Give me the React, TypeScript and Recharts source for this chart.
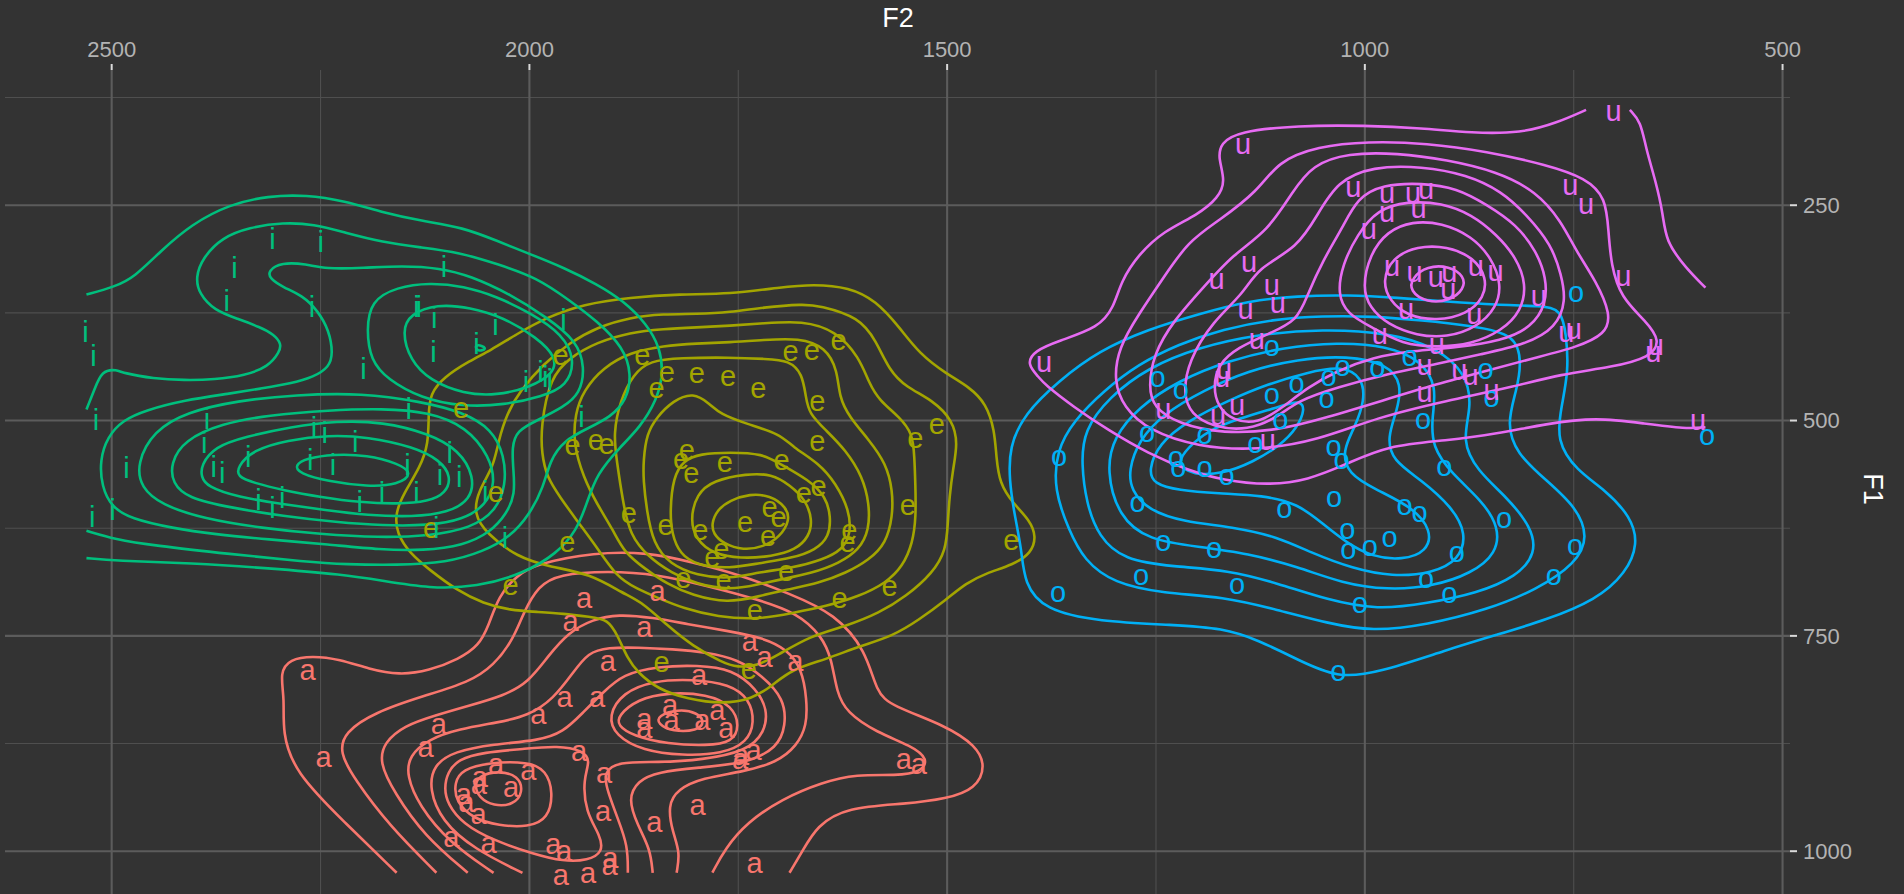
// Vowel formant chart: F2 (top, reversed) vs F1 (right, reversed), density contours + vowel labels
import { CartesianGrid, Scatter, ScatterChart, XAxis, YAxis } from "recharts";

type P = [number, number];
type Ring = { closed: boolean; pts: P[] };

const COLORS = { a: "#F8766D", e: "#A3A500", i: "#00BF7D", o: "#00B0F6", u: "#E76BF3" };

const xTicks = [500, 1000, 1500, 2000, 2500];
const yTicks = [250, 500, 750, 1000];
const xMinor = [750, 1250, 1750, 2250];
const yMinor = [125, 375, 625, 875];

// label positions [F2, F1]
const aLabels: P[] = [
  [1934.5, 708.3], [1846.5, 699.8], [1950.6, 734.5], [1862.5, 742.3], [1736.3, 757.7], [1718.5, 777], [1681.6, 781.7],
  [2265.5, 792.5], [1906, 781.7], [1797, 798.3], [1957.8, 823.4], [1919.1, 823.4], [1989.3, 842.7], [2108.3, 854.3],
  [1831.6, 833.1], [1775, 838.1], [1862.5, 848.5], [1862.5, 859], [1829.8, 850.5], [1792.9, 850.5], [1764.3, 859],
  [2124.4, 881.4], [2246.4, 893], [1940.5, 886.4], [1746.5, 891], [1731.6, 884.5], [1747.7, 894.9], [1551.8, 894.9],
  [1534, 900.7], [2039.9, 901.5], [2001.2, 908.4], [1910.7, 911.5], [2059.5, 916.2], [2060.5, 923.9], [2022, 927.7],
  [2078.6, 935.5], [2075.6, 945.1], [2060.7, 958.7], [1911.9, 956], [1798.8, 949], [1850.6, 968.3], [2093.5, 985.7],
  [2048.8, 992.7], [1971.4, 994.2], [1958.4, 1001.9], [1903, 1010.8], [1904, 1018.5], [1962.5, 1030.1], [1929.8, 1028.2],
  [1730.4, 1016.6],
];
const eLabels: P[] = [
  [1962.6, 426.4], [2081.8, 487.6], [1864.9, 425.7], [1835.5, 445.8], [1847.8, 465.1], [1799.7, 446.6], [1762.3, 450.4],
  [1726, 464.4], [1687.5, 421.8], [1661.9, 420.6], [1629.8, 409], [1655.5, 479.8], [1655.5, 526.3], [1538, 522.4],
  [1512.3, 505.8], [1948.2, 530.9], [1920.5, 525.1], [1907.6, 529], [1811.5, 536.7], [1818.4, 547.2], [1806.1, 562.7],
  [1766.1, 550.3], [1698.2, 548.3], [1671.5, 586.3], [1653.9, 578.1], [1712.6, 602.5], [1701.9, 614.1], [1742, 619.9],
  [1714.2, 636.2], [1880.9, 609.1], [1837.1, 623.8], [1795.4, 629.6], [1770.3, 650.9], [1781, 660.6], [1547.1, 599.8],
  [1617, 629.6], [1619.2, 643.2], [1423.1, 641.2], [1954.6, 643.2], [2040.1, 585.1], [2117.6, 626.9], [2022.5, 693.5],
  [1815.8, 685], [1767.7, 687.7], [1692.9, 677.2], [1569, 694.2], [1628.8, 708.9], [1730.3, 722.5], [1841.7, 782.8],
  [1737.5, 790.5],
];
const iLabels: P[] = [
  [2307.4, 289.3], [2249.7, 293.2], [2353.1, 322.9], [2362.3, 361.5], [2260.2, 368.4], [2102.4, 321.3], [2135.3, 368.4],
  [2132.6, 368.4], [2113.8, 380.8], [2040.6, 389.6], [2063.5, 410.8], [2114.7, 420.5], [1959.2, 383.8], [2531.5, 397.3],
  [2521.9, 425.5], [2518.7, 498.8], [2198.5, 439.8], [2004, 455.2], [1986.6, 443.6], [1981, 449], [1975.7, 453.3],
  [2144.5, 486.1], [2386, 497.7], [2258, 509.2], [2245.1, 515], [2208.5, 524.7], [2389.2, 526.6], [2336.6, 542],
  [2482.2, 555.5], [2377.8, 554.4], [2367.8, 561.3], [2262.5, 545.9], [2235.1, 551.7], [2145.9, 551.7], [2095.5, 538.2],
  [2107, 563.2], [2084.1, 565.2], [2135.3, 584.5], [2324.3, 592.2], [2307.4, 601.8], [2296, 590.2], [2203, 594.1],
  [2176.5, 584.5], [2523.3, 611.5], [2499, 603.7], [2029.2, 636.5], [1937.7, 495.7], [2111.5, 625], [2053, 583],
];
const oLabels: P[] = [
  [1111.3, 415.9], [1248.2, 451.7], [1220.3, 466], [1081.6, 458.3], [1043.5, 450.6], [1026.8, 439], [985.1, 440.2],
  [946.5, 427.4], [855.4, 442.1], [848.3, 474.9], [1111.3, 471.8], [1045.9, 475.7], [1101.2, 500], [930.4, 500],
  [1260.7, 515.4], [1191.7, 518.5], [1366.1, 543.2], [1226.2, 544.3], [1223.2, 555.9], [1191.7, 555.9], [1165.5, 565.5],
  [1131, 528.9], [1037.5, 531.6], [1028, 547], [904.8, 554.8], [1036.9, 590.6], [1096.5, 604.1], [1272, 597.2],
  [952.4, 600.3], [934.6, 608.8], [833.4, 614.9], [1020.9, 628.4], [970.3, 637.7], [1019.7, 651.6], [994.1, 648.5],
  [889.9, 655.1], [748.3, 647.3], [1241.1, 641.6], [1180.4, 650.4], [1267.9, 682.1], [1153, 692.1], [926.8, 685.2],
  [898.8, 702.5], [773.8, 682.1], [1367.3, 701.7], [1006, 714.1], [1031.6, 793.2], [590.5, 519.3], [747.1, 353.4],
];
const uLabels: P[] = [
  [702.4, 143.2], [1145.9, 181.7], [1013.7, 230.7], [973.3, 237.7], [942.3, 237.7], [926.8, 233.8], [973.3, 260.1],
  [935.7, 255], [995.3, 280.1], [754.2, 229.2], [735.2, 251.2], [1138.7, 318.7], [1177.4, 338], [1111.3, 344.9],
  [1104.2, 365.8], [1142.9, 372.7], [967.3, 322.5], [940.5, 330.3], [914.9, 336.1], [898.8, 330.3], [900, 349.6],
  [867.3, 322.5], [843.5, 328.3], [791.7, 357.3], [690.5, 334.1], [950.6, 372.7], [869.1, 378.5], [982.2, 401.6],
  [913.7, 413.2], [758.9, 399.7], [750, 395.9], [651.8, 415.1], [654.8, 422.9], [1129.2, 407.4], [1168.5, 442.1],
  [1170.9, 451.8], [928.6, 438.3], [887, 444.1], [873.3, 449.9], [928.6, 469.1], [848.2, 467.2], [1383.9, 434.4],
  [1241.1, 488.4], [1175.6, 496.2], [1153, 484.6], [1116.1, 525.1], [601.2, 501.9],
];

// contour lines [F2, F1]
const aContours: Ring[] = [
  { closed: false, pts: [[2158.9, 1025], [2221.4, 966.4], [2281, 908.4], [2295.8, 862], [2292.9, 823.4], [2298.8, 792.5], [2286.9, 777], [2260, 773.2], [2227.4, 777], [2191.7, 788.6], [2156, 795.6], [2120.2, 790.6], [2084.5, 777], [2060.7, 761.6], [2048.8, 738.4], [2037, 703.6], [2015, 680], [1992, 666.4], [1922.5, 652.9], [1858.4, 652.9], [1805, 664.5], [1751.6, 678], [1687.5, 701.2], [1634, 724.5], [1597, 767], [1584.6, 815.7], [1566.7, 831.1], [1501.2, 854.3], [1465.5, 877.5], [1453.6, 900.7], [1465.5, 927.7], [1501.2, 939.3], [1548.9, 945.1], [1620.3, 949], [1656, 970.3], [1673.8, 1001.2], [1688.7, 1025]] },
  { closed: false, pts: [[2111.3, 1025], [2167.9, 970.3], [2209.5, 916.2], [2227.4, 885.2], [2221.4, 862], [2185.7, 838.9], [2126.2, 819.6], [2072.6, 804.1], [2042.9, 784.8], [2019.1, 753.9], [2007.2, 723], [1989.3, 692], [1965.5, 678.5], [1906, 674.6], [1846.5, 678.5], [1786.9, 692], [1727.4, 707.5], [1679.8, 723], [1650, 750], [1638.1, 777], [1632.2, 815.7], [1620.3, 838.9], [1584.6, 862], [1542.9, 877.5], [1522.1, 893], [1531, 908.4], [1560.8, 912.3], [1608.4, 910.4], [1650, 920], [1697.7, 939.3], [1739.3, 966.4], [1766.1, 997.3], [1781, 1025]] },
  { closed: false, pts: [[2073.8, 1025.1], [2126.2, 981.8], [2161.9, 931.6], [2179.8, 896.8], [2173.8, 873.6], [2150, 854.3], [2114.3, 842.7], [2072.6, 831.1], [2030.9, 819.5], [2001.2, 804.1], [1977.4, 773.2], [1953.6, 746.1], [1923.8, 730.7], [1894.1, 724.9], [1852.4, 728.7], [1810.7, 736.4], [1763.1, 744.2], [1721.4, 751.9], [1691.7, 765.4], [1673.8, 788.6], [1667.9, 823.4], [1667.9, 854.3], [1679.8, 877.5], [1703.6, 897], [1745.3, 908], [1792.9, 915], [1822.6, 928], [1834.5, 947.1], [1828.6, 978], [1819.6, 1001.1], [1823.8, 1025.1]] },
  { closed: false, pts: [[2042.9, 1025.1], [2096.4, 989.5], [2132.1, 947.1], [2147, 912.3], [2144, 889.1], [2120.2, 869.8], [2084.5, 858.2], [2036.9, 850.4], [2001.2, 842.7], [1971.4, 823.4], [1947.6, 792.5], [1929.8, 769.3], [1906, 763.5], [1870.3, 763.5], [1828.6, 765.4], [1786.9, 769.3], [1751.2, 777], [1721.4, 796.3], [1695, 823], [1693, 854], [1703, 880], [1740, 898], [1798.8, 903], [1846.4, 908], [1870.3, 918], [1882.2, 939.3], [1870.3, 970.3], [1855.4, 997.3], [1852.4, 1025.1]] },
  { closed: false, pts: [[2008.3, 1025.1], [2066.7, 997.3], [2105, 965], [2120, 928], [2115, 900], [2090, 884], [2042.9, 875.6], [1989.3, 871.7], [1959.5, 862], [1935.7, 838.8], [1911.9, 815.7], [1888.1, 794.4], [1846.4, 785.5], [1798.8, 784], [1757.2, 788.6], [1728, 811.8], [1715, 835], [1718, 862], [1740, 884], [1792.9, 894], [1846.4, 897], [1894.1, 896], [1911.9, 908.4], [1906, 931.6], [1894.1, 962.5], [1882.2, 993.4], [1882.2, 1025.1]] },
  { closed: true, pts: [[2098, 908.4], [2085, 893], [2054.8, 885.2], [2007.2, 881.3], [1965.5, 877.5], [1935.7, 883.3], [1926.8, 894.9], [1935.7, 916.1], [1932.7, 954.8], [1914.9, 981.8], [1911.9, 1001.1], [1929.8, 1010.8], [1959.5, 1012], [1995.2, 1003.1], [2042.9, 987.6], [2080, 968], [2098, 945], [2102, 927]] },
  { closed: true, pts: [[2080, 905], [2048.8, 897], [2001.2, 896], [1980, 906], [1971.4, 931.6], [1977.4, 962.5], [2001.2, 972.2], [2036.9, 970.3], [2066.7, 962.5], [2088, 943.2], [2090, 920]] },
  { closed: true, pts: [[2060.7, 912.3], [2036.9, 906.5], [2013.1, 912.3], [2007.2, 931.6], [2019.1, 946.3], [2042.9, 947.8], [2060.7, 937.4], [2065.5, 923.9]] },
  { closed: true, pts: [[1906, 842.7], [1888.1, 815.7], [1852.4, 802.1], [1804.8, 800.2], [1760.2, 806], [1736.3, 823.4], [1730.4, 850.4], [1739.3, 873.6], [1769.1, 887.1], [1816.7, 889.1], [1864.3, 883.3], [1897, 865.9]] },
  { closed: true, pts: [[1894.1, 842.7], [1870.3, 823.4], [1834.5, 815.7], [1786.9, 817.6], [1757.2, 831.1], [1748.2, 854.3], [1757.2, 873.6], [1786.9, 877.5], [1834.5, 875.6], [1876.2, 865.9], [1894.1, 854.3]] },
  { closed: true, pts: [[1846.4, 842.7], [1822.6, 835], [1798.8, 838.8], [1789.9, 850.4], [1798.8, 860.1], [1828.6, 861.2], [1846.4, 852.4]] },
];

const eContours: Ring[] = [
  { closed: true, pts: [[2160.7, 608.2], [2150.7, 585], [2130.7, 554.1], [2120.8, 527], [2120.8, 492.3], [2118.8, 469.1], [2102.8, 449.8], [2071, 430.4], [2047, 418.9], [2015.1, 399.5], [1979.3, 380.2], [1935.4, 364.8], [1879.6, 357], [1819.8, 353.2], [1760, 353.2], [1700.2, 345.4], [1660.3, 341.6], [1617.2, 345.3], [1585.2, 360.8], [1557.2, 391.6], [1533.2, 422.5], [1501.2, 445.6], [1473.2, 461.1], [1453.2, 480.4], [1443.2, 511.2], [1441.2, 542.1], [1437.2, 573], [1421.2, 596.1], [1401.2, 615.4], [1393.2, 634.7], [1399.2, 654], [1421.2, 667.5], [1453.2, 677.1], [1477.2, 688.7], [1501.2, 708], [1533.2, 731.1], [1565.2, 750.4], [1605.2, 762], [1645.2, 777.4], [1685.7, 788.6], [1709.5, 807.9], [1733.4, 823.4], [1769.1, 829.2], [1810.7, 823.4], [1846.4, 811.8], [1870.3, 792.5], [1882.2, 777], [1894.1, 750], [1906, 730.7], [1927.4, 728], [1959.3, 724.1], [1991.2, 722.2], [2023.1, 720.2], [2055, 712.5], [2086.9, 697.1], [2118.8, 673.9], [2142.7, 654.6], [2158.7, 631.4]] },
  { closed: true, pts: [[2067, 608.2], [2061, 581.1], [2043, 554.1], [2037, 523.2], [2027.1, 492.3], [2011.1, 465.2], [1983.2, 434.3], [1951.3, 409.2], [1919.4, 391.8], [1879.6, 380.2], [1839.7, 376.3], [1799.8, 376.3], [1760, 374.4], [1720.1, 368.6], [1672.2, 364.8], [1653.2, 366.6], [1605.2, 380.1], [1585.2, 407.1], [1569.2, 441.8], [1549.2, 461.1], [1517.2, 476.5], [1493.2, 499.7], [1487.2, 526.7], [1493.2, 557.5], [1497.2, 588.4], [1499.2, 619.3], [1501.2, 650.1], [1517.2, 677.1], [1549.2, 704.2], [1581.2, 723.4], [1621.2, 738.9], [1665.2, 750.4], [1703.6, 773.2], [1727.4, 784.7], [1751.2, 786.7], [1769.1, 780.9], [1804.8, 761.6], [1834.5, 738.4], [1864.3, 711.3], [1887.5, 700.9], [1927.4, 677.7], [1975.3, 670], [2015.1, 658.4], [2051, 631.4]] },
  { closed: true, pts: [[1986.4, 507.7], [1975.3, 449.8], [1951.3, 426.6], [1919.4, 409.2], [1879.6, 397.6], [1839.7, 393.7], [1799.8, 391.8], [1760, 389.9], [1720.1, 387.2], [1673.2, 383.9], [1633.2, 395.5], [1605.2, 426.4], [1593.2, 457.2], [1581.2, 476.5], [1557.2, 495.8], [1541.2, 515.1], [1539.2, 542.1], [1538, 573], [1537.2, 611.5], [1541.2, 642.4], [1553.2, 669.4], [1573.2, 688.6], [1605.2, 704.1], [1645.2, 715.7], [1685.2, 723.4], [1725.2, 731.1], [1775, 728], [1816, 718], [1846, 706], [1872, 695], [1895.6, 681.6], [1919.4, 646.8], [1943.4, 615.9], [1963.3, 588.9], [1979.2, 565.7], [1985.2, 538.6]] },
  { closed: true, pts: [[1947.4, 527], [1945.4, 492.3], [1935.4, 465.2], [1911.5, 438.2], [1879.6, 420.8], [1839.7, 413.1], [1799.8, 410.4], [1760, 409.2], [1720.1, 406.5], [1677.2, 404], [1645.2, 414.8], [1631.2, 441.8], [1629.2, 472.6], [1617.2, 495.8], [1593.2, 522.8], [1573.2, 549.8], [1565.2, 580.7], [1565.2, 611.5], [1573.2, 642.4], [1593.2, 661.7], [1621.2, 677.1], [1653.2, 688.7], [1693.2, 696.4], [1725.2, 704.1], [1763, 712], [1805, 703], [1835, 690], [1862, 672], [1887.5, 652], [1899.5, 627.5], [1919.4, 596.6], [1935.4, 565.7]] },
  { closed: true, pts: [[1895.5, 546.4], [1899.5, 515.4], [1891.5, 476.8], [1875.6, 445.9], [1855.6, 430.4], [1819.8, 427.3], [1760, 426.6], [1716.1, 428.5], [1689.2, 430.2], [1673.2, 445.7], [1669.2, 472.6], [1665.2, 491.9], [1645.2, 511.2], [1621.2, 534.4], [1601.2, 565.2], [1593.2, 596.1], [1593.2, 627], [1605.2, 650.1], [1629.2, 665.6], [1661.2, 677.1], [1701.2, 684.8], [1725.2, 690], [1760, 697], [1800, 690], [1830, 677], [1858, 658], [1879.6, 633], [1888, 595]] },
  { closed: true, pts: [[1863.6, 546.4], [1859.6, 515.4], [1847.7, 496.1], [1827.8, 476.8], [1803.8, 467.1], [1783.9, 480.7], [1772, 492.3], [1740, 503.9], [1700.2, 515.4], [1685.2, 530.5], [1653.2, 549.8], [1633.2, 573], [1617.2, 603.8], [1615.2, 630.8], [1625.2, 650.1], [1649.2, 661.7], [1685.2, 671.2], [1725.2, 676], [1760, 684], [1799.8, 680], [1831.7, 667], [1851.7, 643], [1859.6, 604.3], [1863.6, 569.5]] },
  { closed: true, pts: [[1829.7, 631.4], [1831.7, 604.3], [1827.8, 565.7], [1815.8, 546.4], [1795.8, 538.6], [1760, 536.7], [1720.1, 538.6], [1701.2, 549.8], [1665.2, 569.1], [1645.2, 588.4], [1639.2, 611.5], [1641.2, 634.7], [1657.2, 650.1], [1685.2, 659.8], [1725.2, 665.5], [1760, 672], [1799.8, 668], [1819.8, 655]] },
  { closed: true, pts: [[1807.8, 615.9], [1799.8, 585], [1779.9, 569.5], [1740, 561.8], [1710, 562], [1688, 575], [1669.2, 592.3], [1661.2, 615.4], [1665.2, 634.7], [1681.2, 650.1], [1709.2, 657.8], [1748, 660.3], [1779.9, 654.6], [1799.8, 639.1]] },
  { closed: true, pts: [[1781.9, 619.8], [1775.9, 604.3], [1760, 592.7], [1736.1, 585], [1712.1, 586.9], [1692.2, 600.5], [1688.2, 615.9], [1700.2, 635.2], [1720.1, 646.8], [1744, 650.7], [1767.9, 643], [1779.9, 631.4]] },
];

const iContours: Ring[] = [
  { closed: false, pts: [[2530.2, 353.7], [2495.9, 344.5], [2473, 333.7], [2441, 302.8], [2404.3, 272], [2358.6, 248.8], [2312.9, 239.2], [2267.1, 238], [2221.4, 245], [2175.6, 258.5], [2129.9, 268.1], [2078.9, 275.9], [2039, 291.3], [1999.2, 306.8], [1959.3, 322.2], [1919.4, 341.6], [1887.5, 360.9], [1859.6, 387.9], [1843.7, 415], [1839.7, 445.9], [1847.7, 476.8], [1867.6, 507.7], [1891.5, 530.9], [1919.4, 561.8], [1931.4, 596.6], [1943.4, 627.5], [1967.3, 654.6], [2007.1, 677.7], [2063, 693.2], [2118.8, 695.1], [2178.6, 685.5], [2221.4, 679], [2312.9, 671.3], [2404.3, 665.5], [2495.9, 662.8], [2530.2, 659.7]] },
  { closed: false, pts: [[2530.2, 487.2], [2521, 464.9], [2511.9, 441.7], [2493.6, 440.9], [2486.7, 444.8], [2450.1, 451.3], [2413.5, 453.3], [2376.9, 452.5], [2340.3, 447.5], [2312.9, 437.9], [2299.1, 420.5], [2296.8, 410.8], [2306, 400], [2322, 391.6], [2349.4, 381.9], [2376.9, 372.3], [2395.2, 353], [2399.8, 333.7], [2390.6, 310.5], [2367.8, 287.4], [2335.7, 275.8], [2294.6, 270], [2258, 272], [2221.4, 281.6], [2175.6, 293.2], [2129.9, 299], [2084.1, 304.7], [2038.4, 318.3], [1991.2, 333.8], [1951.3, 360.9], [1919.4, 384.1], [1887.5, 415], [1877.6, 445.9], [1883.6, 476.8], [1903.5, 496.1], [1927.4, 507.7], [1959.3, 523.2], [1975.3, 546.4], [1983.2, 577.3], [1999.2, 608.2], [2023.1, 635.2], [2055, 652], [2098.9, 665], [2158.7, 668], [2220, 667], [2267.1, 664], [2358.6, 655], [2450.1, 645], [2495.9, 638], [2530.2, 628]] },
  { closed: true, pts: [[2511.9, 576.7], [2514.2, 545.9], [2505, 518.9], [2486.7, 499.6], [2459.3, 488], [2413.5, 476.4], [2358.6, 468.7], [2322, 462.9], [2285.4, 457.1], [2258, 449.4], [2239.7, 437.9], [2235.1, 422.4], [2239.7, 395.4], [2253.4, 372.3], [2271.7, 354.9], [2294.6, 345.3], [2310.6, 335.6], [2312.9, 326], [2296.8, 316.3], [2267.1, 318.3], [2244.2, 324], [2198.5, 322.9], [2152.7, 320.2], [2107, 322.9], [2071, 331.9], [2023.1, 353.2], [1979.3, 380.2], [1943.4, 407.3], [1933.4, 438.2], [1939.4, 469.1], [1959.3, 484.5], [1991.2, 500], [2015.1, 511.6], [2021.1, 530.9], [2019.1, 558], [2017.1, 585], [2027.1, 608.2], [2047, 630], [2078.9, 645], [2126.8, 651], [2178.6, 650], [2239.7, 644], [2312.9, 638], [2376.9, 632], [2427.2, 625], [2477.5, 614], [2500.4, 600]] },
  { closed: true, pts: [[2195, 395], [2190, 361], [2159, 345], [2119, 340], [2079, 344], [2039, 356], [1999, 375], [1960, 400], [1945, 430], [1955, 460], [1985, 472], [2030, 482], [2080, 484], [2130, 474], [2170, 452], [2190, 430]] },
  { closed: true, pts: [[2152.7, 395.7], [2142.7, 376.3], [2110.8, 364.8], [2071, 368.6], [2031.1, 380.2], [1991.2, 403.4], [1967.3, 426.6], [1971.3, 445.9], [1999.2, 461.4], [2039, 471], [2078.9, 469.1], [2118.8, 453.6], [2142.7, 430.4]] },
  { closed: true, pts: [[2066, 410], [2048, 416], [2063, 421]] },
  { closed: true, pts: [[2470, 550], [2450, 512], [2410, 490], [2350, 477], [2280, 470], [2200, 468], [2130, 478], [2080, 490], [2045, 510], [2030, 540], [2028, 575], [2040, 605], [2070, 625], [2120, 634], [2180, 636], [2250, 632], [2320, 625], [2390, 614], [2440, 598], [2465, 578]] },
  { closed: true, pts: [[2429.5, 549.7], [2413.5, 522.7], [2367.8, 503.4], [2312.9, 493.8], [2239.7, 488], [2175.6, 486], [2120.7, 490], [2075, 507.3], [2047.5, 542], [2040.6, 572.9], [2052.1, 598], [2079.6, 615.3], [2120.7, 622], [2175.6, 622], [2230.5, 618], [2294.6, 611], [2358.6, 601], [2408.9, 590], [2427.2, 572.9]] },
  { closed: true, pts: [[2392.9, 551.7], [2376.9, 530.4], [2340.3, 518.9], [2285.4, 507.3], [2230.5, 500.4], [2175.6, 501.5], [2120.7, 515], [2084.1, 534.3], [2065.8, 565.2], [2070.4, 592.2], [2097.8, 607], [2139, 612], [2193.9, 610], [2244.2, 604], [2294.6, 597], [2349.4, 589], [2386, 576.7], [2392.9, 565.2]] },
  { closed: true, pts: [[2349.4, 553.6], [2331.1, 534.3], [2290, 522.7], [2239.7, 516.9], [2193.9, 518.9], [2139, 530.4], [2107, 545.9], [2093.3, 565.2], [2100.1, 584.4], [2120.7, 594], [2157.3, 597], [2203, 595], [2248.8, 589], [2294.6, 581], [2331.1, 572], [2349.4, 565.2]] },
  { closed: true, pts: [[2280.8, 551.7], [2267.1, 544], [2235.1, 538.9], [2193.9, 540.1], [2157.3, 549.7], [2139, 561.3], [2157.3, 574.8], [2193.9, 576.7], [2239.7, 570.9], [2276.2, 561.3]] },
];

const oContours: Ring[] = [
  { closed: true, pts: [[764.9, 370.8], [788.7, 366.9], [842.3, 365.8], [901.8, 361.9], [961.3, 357.3], [1020.9, 354.2], [1080.4, 355.3], [1139.9, 361.1], [1199.4, 376.6], [1258.9, 393.9], [1318.5, 419], [1366.1, 453.7], [1407.7, 492.3], [1425.6, 530.9], [1425.6, 569.4], [1419.6, 608], [1410.7, 650.4], [1407.7, 689], [1383.9, 719.9], [1318.5, 733.4], [1229.2, 737.2], [1169.7, 741.1], [1128, 754.6], [1080.4, 777.7], [1032.8, 799], [985.1, 793.2], [901.8, 766.2], [842.3, 748.8], [782.8, 731.5], [723.3, 708.3], [687.5, 677.4], [672.6, 642.7], [681.6, 611.9], [711.4, 581], [747.1, 557.8], [770.9, 523.1], [764.9, 484.5], [756, 442.1], [759, 399.7]] },
  { closed: true, pts: [[818.5, 399.7], [872.1, 390.1], [931.6, 383.5], [991.1, 378.9], [1050.6, 378.5], [1110.1, 382.4], [1169.7, 393.9], [1223.2, 411.3], [1270.8, 434.4], [1312.5, 465.3], [1348.2, 500], [1369.1, 534.7], [1372, 581], [1354.2, 627.3], [1336.3, 662], [1300.6, 689], [1241.1, 700.6], [1169.7, 704.4], [1104.2, 719.9], [1044.7, 735.3], [991.1, 745], [925.6, 737.2], [854.2, 719.9], [794.7, 696.6], [747.1, 665.9], [732.2, 635], [747.1, 600.3], [782.8, 569.4], [818.5, 538.5], [830.4, 503.8], [818.5, 465.2], [812.5, 434.4]] },
  { closed: true, pts: [[1339.3, 550.1], [1336.3, 511.5], [1306.6, 473], [1258.9, 438.2], [1199.4, 415.1], [1128, 399.7], [1050.6, 393.9], [973.2, 397.7], [913.7, 415.1], [878, 446], [872.1, 484.5], [884, 523.1], [866.1, 557.8], [830.4, 588.7], [800.6, 623.4], [794.7, 654.3], [818.5, 681.3], [866.1, 700.6], [925.6, 712.2], [985.1, 719.9], [1044.7, 708.3], [1104.2, 689], [1163.7, 673.6], [1229.2, 669.7], [1288.7, 662], [1318.5, 635], [1333.3, 596.4]] },
  { closed: true, pts: [[1309.5, 557.8], [1300.6, 519.3], [1270.8, 484.5], [1223.2, 453.7], [1163.7, 430.5], [1098.2, 415.1], [1032.8, 409.3], [973.2, 413.2], [931.6, 430.5], [913.7, 461.4], [919.7, 496.1], [919.7, 530.8], [895.9, 561.7], [860.2, 592.6], [839.3, 623.4], [842.3, 654.3], [872.1, 677.4], [919.7, 692.9], [973.2, 696.7], [1026.8, 689], [1080.4, 669.7], [1139.9, 654.3], [1199.4, 646.6], [1258.9, 638.9], [1294.7, 611.8]] },
  { closed: true, pts: [[1282.7, 557.8], [1270.8, 523.1], [1241.1, 492.3], [1193.5, 465.2], [1139.9, 442.1], [1080.4, 428.6], [1020.9, 424.7], [973.2, 434.4], [955.4, 457.5], [961.3, 488.4], [973.2, 519.3], [967.3, 546.3], [931.6, 569.4], [895.9, 600.3], [878, 631.1], [887, 662], [919.7, 677.4], [967.3, 681.3], [1014.9, 671.7], [1062.5, 654.3], [1104.2, 635], [1157.8, 623.4], [1217.3, 617.6], [1258.9, 604.1], [1279.8, 581]] },
  { closed: true, pts: [[1258.9, 557.8], [1247, 527], [1211.3, 500], [1163.7, 476.8], [1116.1, 457.5], [1068.5, 444], [1026.8, 436.3], [1003, 449.8], [1000, 476.8], [1012, 507.7], [1026.8, 534.7], [1020.9, 561.7], [985.1, 581], [943.5, 600.3], [919.7, 627.3], [925.6, 652.4], [955.4, 662], [991.1, 658.2], [1020.9, 642.7], [1050.6, 619.6], [1080.4, 596.4], [1122, 586.8], [1175.6, 584.8], [1223.2, 581], [1253, 573.3]] },
  { closed: true, pts: [[1226.2, 550.1], [1211.3, 530.8], [1187.5, 511.5], [1151.8, 498], [1104.2, 484.5], [1077.4, 476], [1071.5, 486.5], [1080.4, 507.7], [1101.2, 528.9], [1133.9, 548.2], [1169.7, 561.7], [1205.4, 563.6]] },
];

const uContours: Ring[] = [
  { closed: false, pts: [[682.8, 139.3], [669.7, 152.8], [663.7, 183.7], [651.8, 222.2], [642.9, 260.8], [639.9, 291.7], [616.1, 322.5], [592.3, 345.7]] },
  { closed: false, pts: [[735.2, 139.3], [770.9, 154.7], [812.5, 166.3], [872, 166.3], [931.6, 160.5], [1000, 157.4], [1080.4, 157.4], [1151.8, 164.4], [1172.6, 177.9], [1175.6, 195.2], [1166.7, 222.2], [1175.6, 241.5], [1199.4, 260.8], [1241.1, 280.1], [1270.8, 307.1], [1291.7, 338], [1300.6, 368.9], [1318.5, 392], [1366.1, 407.4], [1395.8, 419], [1404.8, 434.4], [1389.9, 449.9], [1383.9, 457.5], [1348.2, 484.5], [1306.6, 511.5], [1259, 538.5], [1211.3, 557.8], [1169.7, 569.4], [1116.1, 575.2], [1068.5, 569.4], [1020.9, 550.1], [973.2, 528.9], [901.8, 523.1], [842.3, 515.4], [782.8, 503.8], [723.3, 496.1], [663.7, 503.8], [616.1, 509.6], [592.3, 507.7]] },
  { closed: true, pts: [[1300.6, 453.7], [1294.7, 415.1], [1270.8, 376.6], [1241.1, 334.1], [1211.3, 291.7], [1175.6, 268.5], [1128, 233.8], [1104.2, 199.1], [1056.6, 181.7], [997.1, 175.9], [925.6, 177.9], [854.2, 187.5], [782.8, 203], [735.2, 218.4], [711.4, 241.5], [708.4, 280.1], [705.4, 318.7], [693.5, 357.3], [663.7, 384.3], [645.9, 407.4], [657.8, 426.7], [705.4, 438.3], [764.9, 446], [824.4, 461.4], [901.8, 476.9], [985.1, 496.2], [1056.6, 523.2], [1128, 534.7], [1199.4, 530.9], [1258.9, 511.6], [1288.7, 484.6]] },
  { closed: true, pts: [[1258.9, 461.4], [1253, 422.9], [1229.2, 384.3], [1193.5, 345.7], [1157.8, 307.1], [1116.1, 280.1], [1086.3, 233.8], [1062.5, 203], [1020.9, 189.4], [961.3, 189.4], [901.8, 197.2], [842.3, 210.7], [794.7, 233.8], [764.9, 268.5], [747.1, 303.3], [723.3, 338], [705.4, 376.6], [711.4, 399.7], [747.1, 415.1], [794.7, 426.7], [854.2, 442.1], [913.7, 457.6], [979.2, 476.9], [1044.7, 496.2], [1104.2, 511.6], [1169.7, 515.4], [1223.2, 503.9], [1253, 484.6]] },
  { closed: true, pts: [[1217.3, 469.2], [1211.3, 430.6], [1181.6, 384.3], [1145.9, 353.4], [1128, 322.5], [1080.4, 299.4], [1056.6, 260.8], [1032.8, 222.2], [991.1, 204.9], [931.6, 204.9], [878, 214.5], [836.3, 233.8], [806.6, 260.8], [776.8, 295.5], [764.9, 330.3], [759, 361.1], [770.9, 392], [806.6, 411.3], [860.2, 422.9], [913.7, 434.4], [973.2, 446], [1032.8, 461.4], [1080.4, 476.9], [1104.2, 496.2], [1139.9, 511.6], [1181.6, 507.7], [1208.3, 492.3]] },
  { closed: true, pts: [[1181.6, 461.4], [1175.6, 434.4], [1151.8, 415.1], [1116.1, 399.7], [1080.4, 384.3], [1068.5, 353.4], [1050.6, 314.8], [1026.8, 276.3], [1009, 241.5], [979.2, 226.1], [931.6, 224.2], [889.9, 230], [854.2, 249.2], [818.5, 272.4], [794.7, 303.3], [782.8, 334.1], [782.8, 365], [800.6, 392], [836.3, 407.4], [889.9, 415.1], [943.5, 419], [991.1, 426.7], [1032.8, 442.1], [1068.5, 461.4], [1098.2, 484.6], [1128, 503.9], [1157.8, 500], [1175.6, 484.6]] },
  { closed: true, pts: [[1032.8, 353.4], [1026.8, 318.7], [1009, 284], [985.1, 255], [949.4, 245.4], [907.8, 247.3], [872.1, 260.8], [842.3, 284], [818.5, 311], [806.6, 341.8], [812.5, 372.7], [836.3, 395.9], [872.1, 411.3], [913.7, 415.1], [955.4, 411.3], [991.1, 392], [1020.9, 376.6]] },
  { closed: true, pts: [[1003, 345.7], [994.1, 307.1], [973.2, 280.1], [943.5, 268.5], [907.8, 270.5], [872.1, 285.9], [848.3, 311], [836.3, 341.8], [842.3, 368.9], [866.1, 392], [901.8, 403.6], [937.5, 401.6], [973.2, 388.1], [994.1, 368.9]] },
  { closed: true, pts: [[979.2, 338], [967.3, 311], [937.5, 297.5], [901.8, 297.5], [869.1, 311], [854.2, 334.1], [857.2, 357.3], [878, 376.6], [913.7, 384.3], [949.4, 378.5], [970.3, 361.1]] },
  { closed: true, pts: [[943.5, 334.1], [925.6, 320.6], [898.8, 320.6], [881, 332.2], [881, 347.6], [898.8, 361.1], [925.6, 363.1], [946.5, 349.6]] },
];

const FONT = "'Liberation Sans', Arial, Helvetica, sans-serif";
const toData = (pts: P[]) => pts.map(([x, y]) => ({ x, y }));
const NoDot = () => <g />;

function labelShape(ch: string, color: string, dy: number) {
  return (props: any) => (
    <text x={props.cx} y={props.cy + dy} textAnchor="middle" fill={color} fontSize={29} fontFamily={FONT}>
      {ch}
    </text>
  );
}

const groups = [
  { key: "a", rings: aContours, labels: aLabels, dy: 8 },
  { key: "e", rings: eContours, labels: eLabels, dy: 8 },
  { key: "i", rings: iContours, labels: iLabels, dy: 10 },
  { key: "o", rings: oContours, labels: oLabels, dy: 8 },
  { key: "u", rings: uContours, labels: uLabels, dy: 8 },
] as const;

export default function App() {
  return (
    <div style={{ position: "relative", width: 1904, height: 894, background: "#333333", fontFamily: FONT }}>
      <style>{"body{margin:0;background:#333333;}"}</style>
      <ScatterChart width={1904} height={894} margin={{ top: 0, right: 0, bottom: 0, left: 5 }}>
        <CartesianGrid stroke="#4f4f4f" strokeWidth={1.1} verticalValues={xMinor} horizontalValues={yMinor} />
        <CartesianGrid stroke="#5c5c5c" strokeWidth={2.1} verticalValues={xTicks} horizontalValues={yTicks} />
        <XAxis
          type="number"
          dataKey="x"
          orientation="top"
          reversed
          domain={[491.1, 2627.7]}
          allowDataOverflow
          ticks={xTicks}
          height={70}
          tickSize={6}
          tickMargin={7}
          axisLine={false}
          tickLine={{ stroke: "#d9d9d9", strokeWidth: 2 }}
          tick={{ fill: "#b3b3b3", fontSize: 22, fontFamily: FONT }}
        />
        <YAxis
          type="number"
          dataKey="y"
          orientation="right"
          reversed
          domain={[93, 1049.7]}
          allowDataOverflow
          ticks={yTicks}
          width={114}
          tickSize={7}
          tickMargin={6}
          axisLine={false}
          tickLine={{ stroke: "#d9d9d9", strokeWidth: 2 }}
          tick={{ fill: "#b3b3b3", fontSize: 22, fontFamily: FONT }}
        />
        {groups.flatMap((g) =>
          g.rings.map((r, idx) => (
            <Scatter
              key={`${g.key}-ring-${idx}`}
              data={toData(r.pts)}
              shape={NoDot}
              line={{ stroke: COLORS[g.key], strokeWidth: 2.6, fill: "none" }}
              lineType="joint"
              lineJointType={r.closed ? "basisClosed" : "basis"}
              isAnimationActive={false}
            />
          ))
        )}
        {groups.map((g) => (
          <Scatter
            key={`${g.key}-labels`}
            data={toData(g.labels)}
            shape={labelShape(g.key, COLORS[g.key], g.dy)}
            isAnimationActive={false}
          />
        ))}
      </ScatterChart>
      <div
        style={{
          position: "absolute",
          left: 898,
          top: 18,
          transform: "translate(-50%, -50%)",
          color: "#ffffff",
          fontSize: 27,
        }}
      >
        F2
      </div>
      <div
        style={{
          position: "absolute",
          left: 1872,
          top: 489,
          transform: "translate(-50%, -50%) rotate(90deg)",
          color: "#ffffff",
          fontSize: 27,
        }}
      >
        F1
      </div>
    </div>
  );
}
